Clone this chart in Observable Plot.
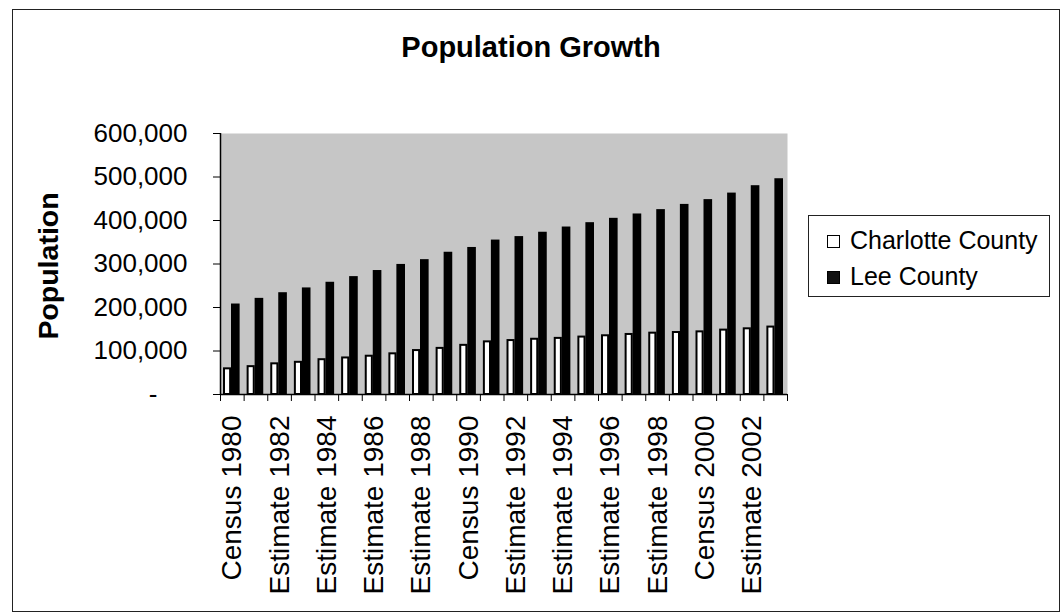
<!DOCTYPE html>
<html>
<head>
<meta charset="utf-8">
<script src="https://cdn.jsdelivr.net/npm/d3@7"></script>
<script src="https://cdn.jsdelivr.net/npm/@observablehq/plot@0.6"></script>
<style>
  html, body { margin: 0; padding: 0; background: #fff; }
  #wrap { position: relative; width: 1060px; height: 615px; font-family: "Liberation Sans", Arial, sans-serif; color: #000; overflow: hidden; }
  #chart { position: absolute; left: 0; top: 0; }
  .ov { position: absolute; white-space: nowrap; }
  #border { position: absolute; left: 12px; top: 9px; width: 1046px; height: 601px; border: 1px solid #222; }
  #title { left: 531px; top: 33px; font-size: 29px; font-weight: bold; line-height: 29px; transform: translateX(-50%); }
  #ylabel { left: 48px; top: 266px; font-size: 28.5px; font-weight: bold; line-height: 28px; transform: translate(-50%, -50%) rotate(-90deg); }
  #legend { position: absolute; left: 808px; top: 215px; width: 240px; height: 80px; border: 1px solid #222; background: #fff; }
  .lg-row { position: absolute; left: 18px; font-size: 25px; line-height: 25px; }
  .sw { display: inline-block; width: 11px; height: 11px; border: 1px solid #000; margin-right: 10px; vertical-align: 1px; }
</style>
</head>
<body>
<div id="wrap">
  <div id="border"></div>
  <div id="chart"></div>
  <div class="ov" id="title">Population Growth</div>
  <div class="ov" id="ylabel">Population</div>
  <div id="legend"></div>
</div>
<script>
const categories = [
  "Census 1980", "Estimate 1981", "Estimate 1982", "Estimate 1983", "Estimate 1984",
  "Estimate 1985", "Estimate 1986", "Estimate 1987", "Estimate 1988", "Estimate 1989",
  "Census 1990", "Estimate 1991", "Estimate 1992", "Estimate 1993", "Estimate 1994",
  "Estimate 1995", "Estimate 1996", "Estimate 1997", "Estimate 1998", "Estimate 1999",
  "Census 2000", "Estimate 2001", "Estimate 2002", "Estimate 2003"
];
const charlotte = [59000, 64000, 70500, 74000, 80000, 84000, 88000, 93500, 101000, 106000,
  113000, 121000, 124000, 127000, 129000, 132000, 135000, 138000, 141000, 142500,
  144000, 148000, 151000, 155000];
const lee = [208000, 221000, 234000, 245000, 258000, 271000, 285000, 299000, 310000, 327000,
  338000, 355000, 363000, 373000, 385000, 395000, 405000, 415000, 425000, 437000,
  448000, 463000, 480000, 496000];
const yTicks = [0, 100000, 200000, 300000, 400000, 500000, 600000];
const seriesNames = ["Charlotte County", "Lee County"];
const seriesFill = ["#ffffff", "#000000"];

const n = categories.length;
const idx = d3.range(n);
const labelIdx = idx.filter(i => i % 2 === 0);
const boundaries = d3.range(n + 1).map(i => i - 0.5);
const charlotteData = idx.map(i => ({i, value: charlotte[i]}));
const leeData = idx.map(i => ({i, value: lee[i]}));

const W = 1060, H = 615;

const plot = Plot.plot({
  width: W,
  height: H,
  marginLeft: 220,
  marginRight: 273,
  marginTop: 133,
  marginBottom: 221,
  style: {fontFamily: "'Liberation Sans', Arial, sans-serif", color: "#000", background: "transparent"},
  x: {type: "linear", domain: [-0.5, n - 0.5], axis: null},
  y: {domain: [0, 600000], axis: null},
  marks: [
    Plot.frame({fill: "#c6c6c6", stroke: "none"}),
    Plot.rectY(charlotteData, {x1: d => d.i - 0.5, x2: d => d.i + 0.5, y1: 0, y2: "value", fill: seriesFill[0], stroke: "#000", strokeWidth: 2, insetLeft: 4, insetRight: 13.5}),
    Plot.rectY(leeData, {x1: d => d.i - 0.5, x2: d => d.i + 0.5, y1: 0, y2: "value", fill: seriesFill[1], insetLeft: 11, insetRight: 4}),
    Plot.ruleY([0], {stroke: "#000", strokeWidth: 1.5}),
    Plot.ruleX([boundaries[0]], {stroke: "#000", strokeWidth: 1.5}),
    Plot.axisY({ticks: yTicks.filter(d => d > 0), tickSize: 7, tickPadding: 26, fontSize: 26, tickFormat: d3.format(","), label: null}),
    Plot.axisY({ticks: [0], tickSize: 7, tickFormat: () => "", label: null}),
    Plot.axisY({ticks: [0], tickSize: 0, tickPadding: 63, fontSize: 26, tickFormat: () => "-", label: null}),
    Plot.axisX({ticks: boundaries, tickSize: 7, tickFormat: () => "", label: null}),
    Plot.axisX({ticks: labelIdx, tickSize: 0, tickPadding: 21, tickRotate: -90, fontSize: 28, tickFormat: i => categories[i], label: null})
  ]
});
document.getElementById("chart").appendChild(plot);

const legend = document.getElementById("legend");
const rowTops = [12, 48];
seriesNames.forEach((name, i) => {
  const row = document.createElement("div");
  row.className = "lg-row";
  row.style.top = rowTops[i] + "px";
  const sw = document.createElement("span");
  sw.className = "sw";
  sw.style.background = i === 0 ? "#fff" : "#111";
  row.appendChild(sw);
  row.appendChild(document.createTextNode(name));
  legend.appendChild(row);
});
</script>
</body>
</html>
